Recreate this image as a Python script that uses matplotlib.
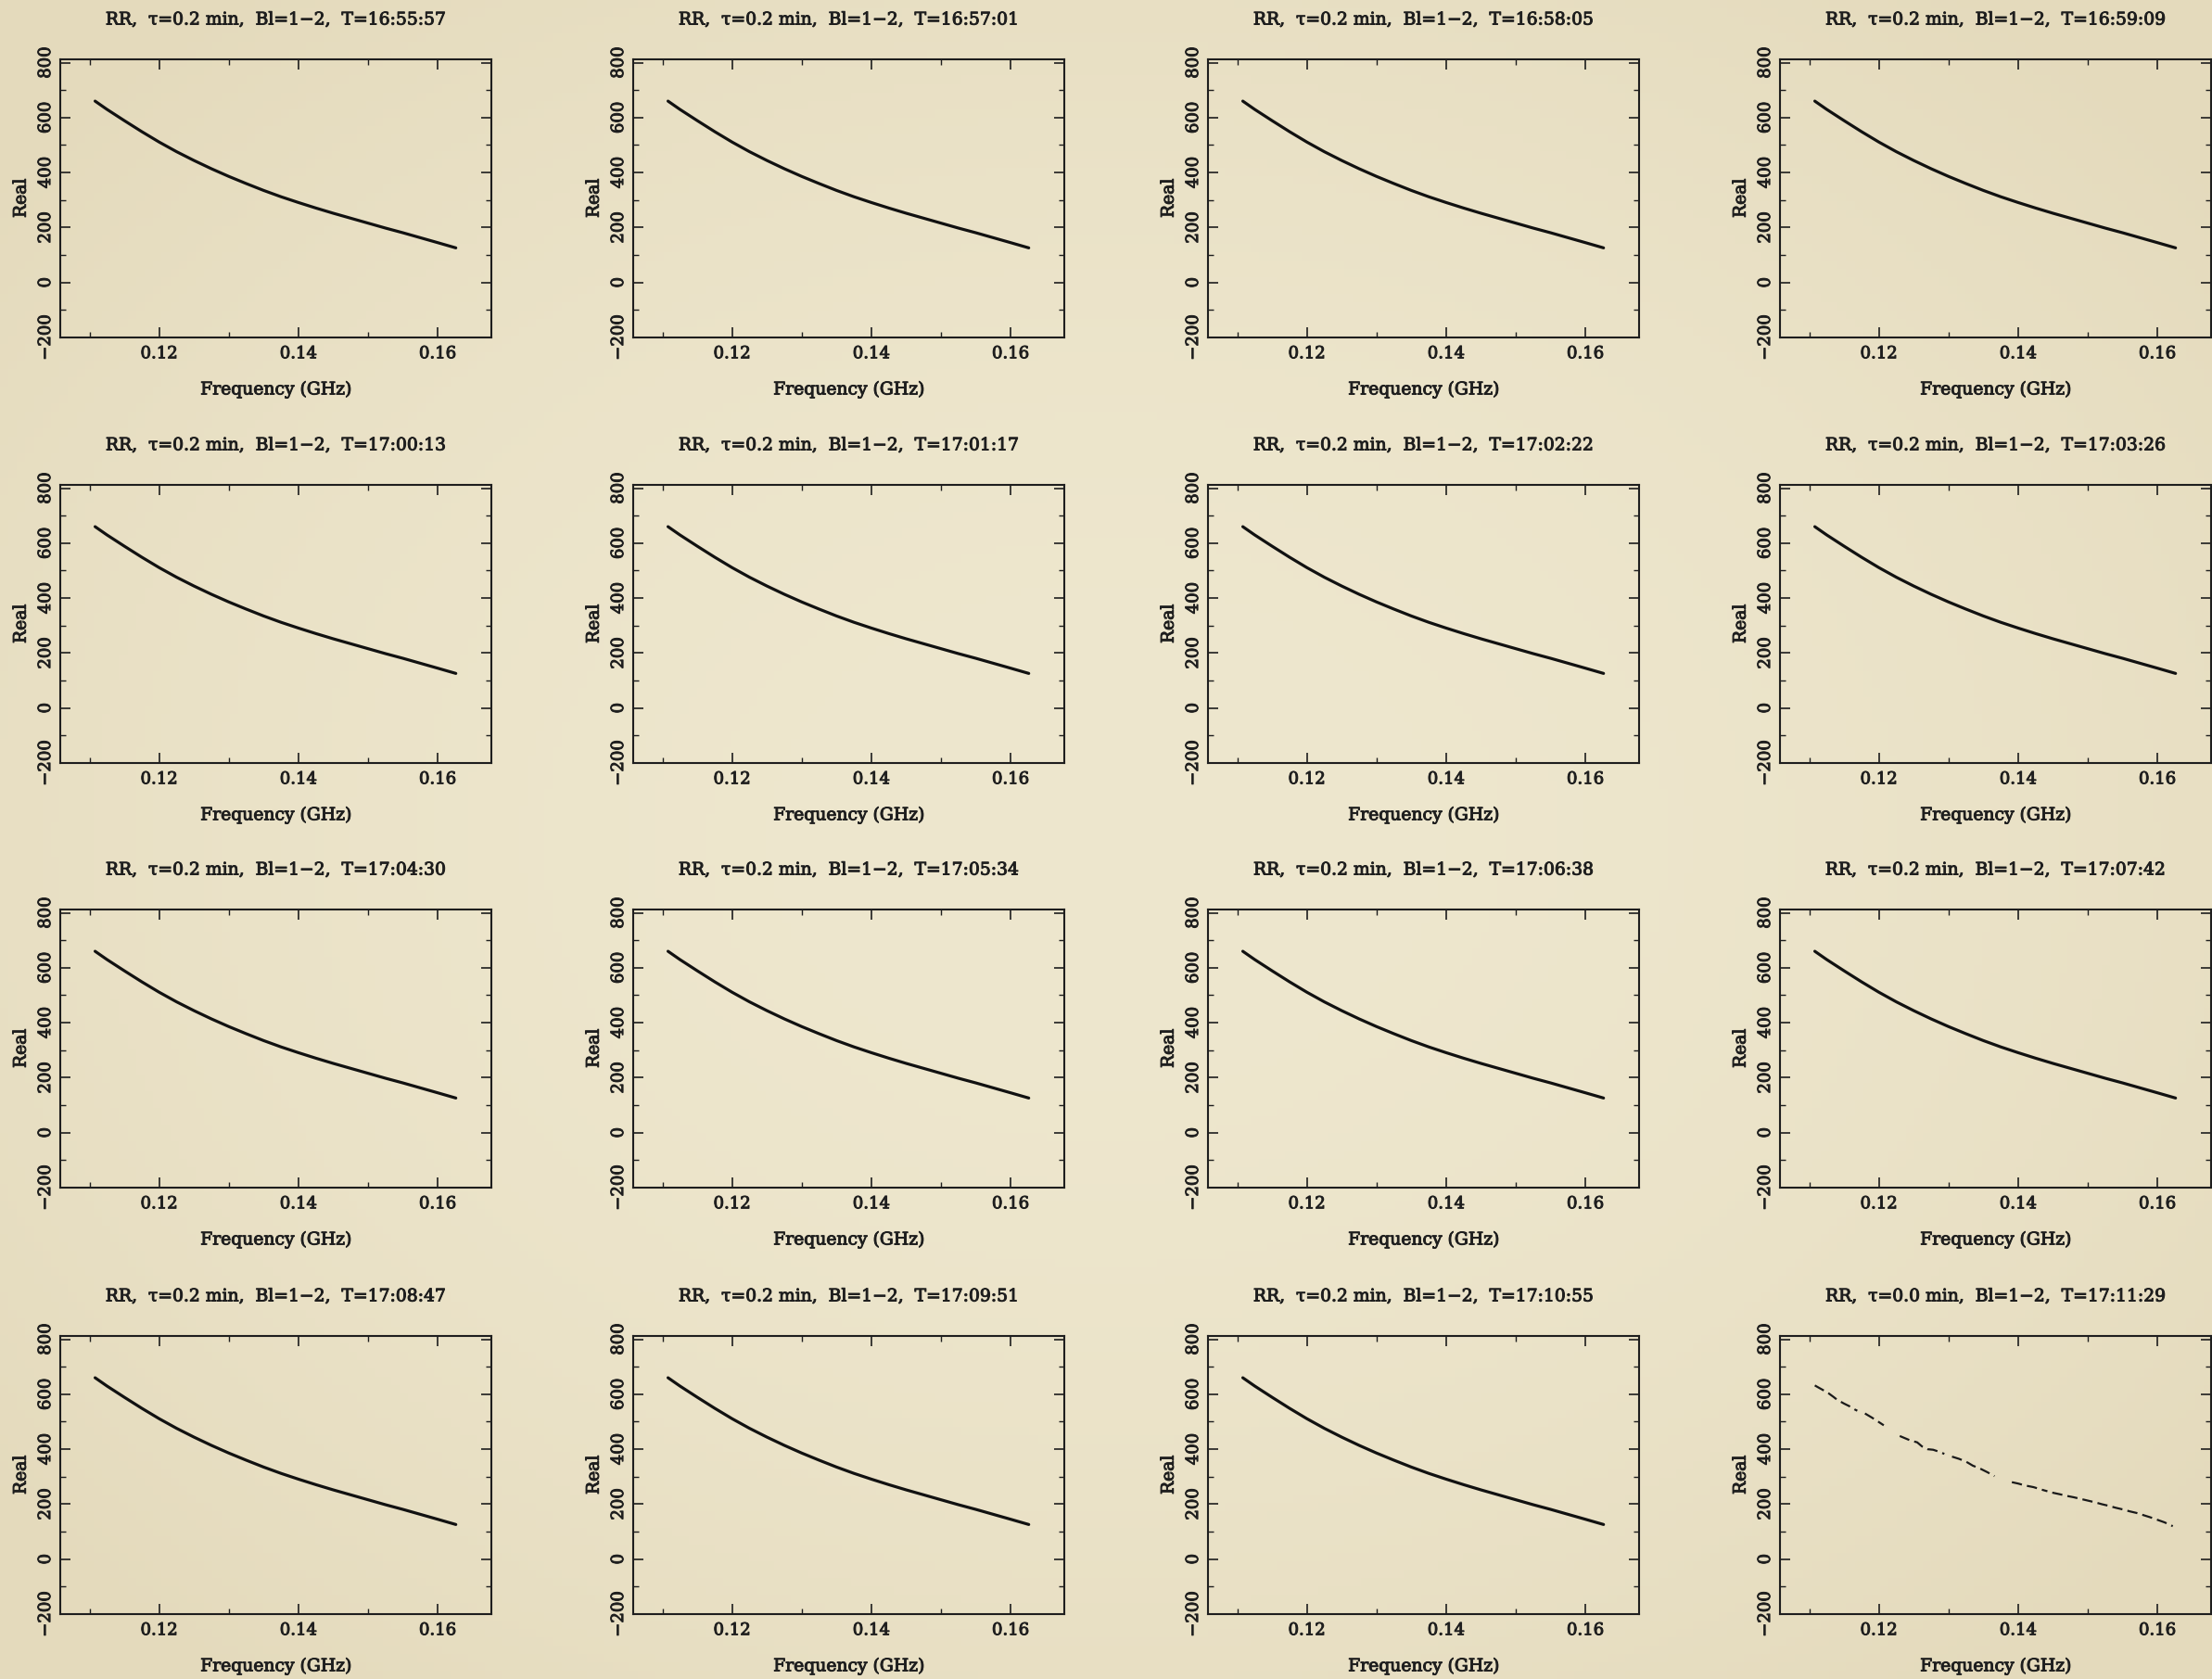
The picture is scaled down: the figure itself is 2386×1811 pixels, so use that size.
import numpy as np
import matplotlib
matplotlib.use("Agg")
import matplotlib.pyplot as plt
import matplotlib.patheffects as pe
from matplotlib.ticker import MultipleLocator, FixedLocator

# ---------------- data ----------------
panel_times = ["16:55:57", "16:57:01", "16:58:05", "16:59:09",
               "17:00:13", "17:01:17", "17:02:22", "17:03:26",
               "17:04:30", "17:05:34", "17:06:38", "17:07:42",
               "17:08:47", "17:09:51", "17:10:55", "17:11:29"]
panel_tau = ["0.2"] * 15 + ["0.0"]

freq_smooth = [0.1108, 0.1125, 0.1150, 0.1175, 0.1200, 0.1225, 0.1250, 0.1275,
               0.1300, 0.1325, 0.1350, 0.1375, 0.1400, 0.1425, 0.1450, 0.1475,
               0.1500, 0.1525, 0.1550, 0.1575, 0.1600, 0.1626]
real_smooth = [660, 630, 589, 549, 511, 476, 444, 414,
               386, 360, 335, 312, 291, 271, 252, 234,
               216, 198, 181, 163, 145, 126]

nan = float("nan")
freq_last = [0.1108, 0.1115, 0.1120, 0.1128, 0.1135, 0.1140, 0.1150, 0.1158, 0.1165, 0.1169, nan,
             0.1180, 0.1190, 0.1198, 0.1207, nan,
             0.1230, 0.1245, 0.1255, 0.1262, 0.1270, 0.1278, 0.1285, 0.1294, nan,
             0.1305, 0.1315, 0.1325, 0.1335, 0.1345, 0.1356, 0.1366, nan,
             0.1391, 0.1400, 0.1410, 0.1422, 0.1435, 0.1442, nan,
             0.1449, 0.1460, 0.1470, 0.1480, 0.1490, 0.1500, 0.1510, 0.1520, 0.1530,
             0.1540, 0.1550, 0.1560, 0.1570, 0.1580, 0.1590, 0.1600, 0.1610, 0.1622]
real_last = [632, 622, 615, 603, 590, 580, 566, 556, 545, 540, nan,
             530, 515, 502, 487, nan,
             448, 432, 425, 410, 400, 398, 392, 383, nan,
             373, 365, 355, 340, 330, 316, 302, nan,
             280, 275, 268, 262, 252, 247, nan,
             242, 236, 230, 225, 219, 213, 207, 200, 194,
             187, 181, 174, 168, 160, 152, 143, 134, 120]

x_ticks = [0.12, 0.14, 0.16]
x_ticklabels = ["0.12", "0.14", "0.16"]
y_ticks = [-200, 0, 200, 400, 600, 800]
y_ticklabels = ["−200", "0", "200", "400", "600", "800"]

# ---------------- figure ----------------
plt.rcParams["font.family"] = ["DejaVu Serif"]

W, H = 2386, 1811
fig = plt.figure(figsize=(W / 100, H / 100), dpi=100)
fig.patch.set_facecolor("#EAE2C6")

# paper-like background with gentle vignette
bg = fig.add_axes([0, 0, 1, 1], zorder=-10)
yy, xx = np.mgrid[0:1:200j, 0:1:260j]
r = np.sqrt(((xx - 0.5) / 0.65) ** 2 + ((yy - 0.5) / 0.65) ** 2)
c_in = np.array([238, 231, 206]) / 255
c_out = np.array([228, 218, 188]) / 255
t = np.clip(r, 0, 1)[..., None] ** 2
bg.imshow(c_in * (1 - t) + c_out * t, aspect="auto", extent=[0, 1, 0, 1])
bg.set_axis_off()

col_left = [65, 683, 1303, 1920]
row_top = [64, 523, 981, 1441]
ax_w, ax_h = 465, 300
ink = "#1e1e1e"
thick = [pe.withStroke(linewidth=0.7, foreground=ink)]

for i in range(16):
    r_i, c_i = divmod(i, 4)
    left = col_left[c_i] / W
    bottom = 1 - (row_top[r_i] + ax_h) / H
    ax = fig.add_axes([left, bottom, ax_w / W, ax_h / H])
    ax.set_facecolor("none")

    if i < 15:
        ax.plot(freq_smooth, real_smooth, color="#111111", lw=2.3,
                solid_capstyle="round", solid_joinstyle="round")
    else:
        ax.plot(freq_last, real_last, color="#1a1a1a", lw=1.6,
                linestyle=(0, (5, 2.5)))

    ax.set_xlim(0.1058, 0.1677)
    ax.set_ylim(-200, 812)
    ax.xaxis.set_major_locator(FixedLocator(x_ticks))
    ax.set_xticklabels(x_ticklabels)
    ax.xaxis.set_minor_locator(MultipleLocator(0.01))
    ax.yaxis.set_major_locator(FixedLocator(y_ticks))
    ax.set_yticklabels(y_ticklabels, rotation=90, va="center")
    ax.yaxis.set_minor_locator(MultipleLocator(100))

    ax.tick_params(which="both", direction="in", top=True, right=True,
                   color=ink, labelcolor=ink, labelsize=13)
    ax.tick_params(which="major", length=8, width=1.2)
    ax.tick_params(which="minor", length=4, width=1.0)
    ax.tick_params(axis="x", pad=6)
    ax.tick_params(axis="y", pad=5)
    for s in ax.spines.values():
        s.set_color(ink)
        s.set_linewidth(1.5)
    for lab in ax.get_xticklabels() + ax.get_yticklabels():
        lab.set_path_effects(thick)

    title = f"RR,  τ={panel_tau[i]} min,  Bl=1−2,  T={panel_times[i]}"
    ax.set_title(title, fontsize=13.5, color=ink, pad=27, path_effects=thick)
    ax.set_xlabel("Frequency (GHz)", fontsize=13.5, color=ink, labelpad=15,
                  path_effects=thick)
    ax.set_ylabel("Real", fontsize=13.5, color=ink, labelpad=6,
                  path_effects=thick)

fig.savefig("out.png", dpi=100, facecolor=fig.get_facecolor())
